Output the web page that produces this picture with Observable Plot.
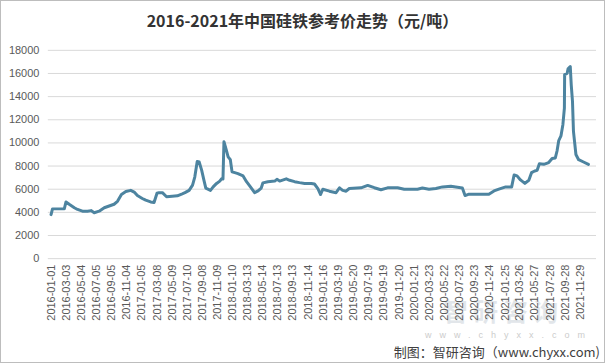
<!DOCTYPE html>
<html>
<head>
<meta charset="utf-8">
<script src="https://cdn.jsdelivr.net/npm/d3@7"></script>
<script src="https://cdn.jsdelivr.net/npm/@observablehq/plot@0.6"></script>
<style>
  html, body { margin: 0; padding: 0; background: #fff; }
  #wrap { position: relative; width: 605px; height: 363px; box-sizing: border-box; border: 1px solid #bdbdbd; overflow: hidden; background: #fff; }
  #wrap svg { position: absolute; left: -1px; top: -1px; }
  #title { position: absolute; left: 0; top: 8px; width: 603px; text-align: center; font: bold 16px "Noto Sans CJK SC", "Open Sans", sans-serif; color: #333; line-height: 22px; }
  #wm { position: absolute; left: 442px; top: 295px; font: bold 25px "Noto Sans CJK SC", sans-serif; color: #e2e6ea; letter-spacing: 5px; line-height: 28px; }
  #wm2 { position: absolute; left: 424px; top: 330px; font: 9px "Liberation Sans", sans-serif; color: #cccccc; letter-spacing: 8px; line-height: 9px; }
  #caption { position: absolute; right: 4px; top: 342px; font: 13px "Noto Sans CJK SC", "Liberation Sans", sans-serif; color: #404040; line-height: 18px; }
</style>
</head>
<body>
<div id="wrap">
  <div id="wm">智研咨询</div>
  <div id="wm2">www.chyxx.com</div>
  <div id="title">2016-2021年中国硅铁参考价走势（元/吨）</div>
  <div id="caption">制图：智研咨询（www.chyxx.com)</div>
</div>
<script>
const dates = [
  "2016-01-01","2016-01-07","2016-02-24","2016-03-02","2016-03-15","2016-04-05","2016-04-18","2016-05-08",
  "2016-05-29","2016-06-12","2016-06-25","2016-07-15","2016-08-05","2016-08-25","2016-09-14","2016-09-28",
  "2016-10-14","2016-11-01","2016-11-21","2016-12-05","2016-12-18","2017-01-07","2017-01-21","2017-02-10",
  "2017-02-24","2017-03-08","2017-03-16","2017-03-30","2017-04-16","2017-05-09","2017-05-30","2017-06-19",
  "2017-06-30","2017-07-17","2017-07-31","2017-08-09","2017-08-19","2017-08-27","2017-09-06","2017-09-15",
  "2017-09-23","2017-10-12","2017-10-23","2017-11-06","2017-11-19","2017-11-26","2017-12-02","2017-12-06",
  "2017-12-16","2017-12-23","2018-01-01","2018-01-08","2018-01-19","2018-02-01","2018-02-22","2018-03-08",
  "2018-03-24","2018-04-10","2018-04-24","2018-05-07","2018-05-14","2018-06-03","2018-07-01","2018-07-10",
  "2018-07-21","2018-08-17","2018-08-31","2018-09-20","2018-10-10","2018-10-31","2018-11-27","2018-12-10",
  "2018-12-24","2019-01-04","2019-01-13","2019-02-09","2019-03-08","2019-03-22","2019-04-04","2019-04-18",
  "2019-05-01","2019-06-18","2019-07-15","2019-08-11","2019-09-07","2019-10-04","2019-11-14","2019-12-11",
  "2020-02-03","2020-02-23","2020-03-21","2020-04-18","2020-05-15","2020-06-18","2020-08-04","2020-08-15",
  "2020-08-31","2020-11-20","2020-12-11","2020-12-31","2021-01-28","2021-02-21","2021-03-03","2021-03-15",
  "2021-03-29","2021-04-16","2021-05-02","2021-05-13","2021-05-26","2021-06-05","2021-06-14","2021-07-02",
  "2021-07-22","2021-08-05","2021-08-18","2021-08-25","2021-09-01","2021-09-10","2021-09-18","2021-09-24",
  "2021-09-25","2021-10-05","2021-10-09","2021-10-18","2021-10-22","2021-10-27","2021-10-31","2021-11-10",
  "2021-11-21","2021-12-11","2021-12-31"
];
const prices = [
  3800,4300,4300,4900,4700,4400,4250,4100,
  4100,4150,3970,4100,4400,4550,4700,4950,
  5550,5800,5900,5750,5450,5200,5050,4900,
  4850,5650,5700,5700,5350,5400,5430,5600,
  5700,5900,6350,7050,8400,8350,7650,6800,
  6100,5900,6200,6500,6700,6900,6880,10100,
  9350,8800,8550,7500,7430,7350,7150,6650,
  6200,5700,5850,6100,6550,6650,6700,6850,
  6700,6900,6770,6650,6570,6500,6500,6450,
  6050,5540,6000,5830,5700,6120,5900,5830,
  6060,6120,6330,6130,5950,6120,6120,6000,
  6000,6100,6000,6060,6200,6250,6100,5450,
  5570,5570,5850,6000,6200,6200,7230,7150,
  6800,6500,6770,7430,7570,7630,8200,8150,
  8300,8650,8700,9300,10200,10600,11600,13000,
  15900,16000,16400,16600,15000,13600,11000,9000,
  8550,8350,8150
];
const xTickLabels = [
  "2016-01-01","2016-03-03","2016-05-04","2016-07-05","2016-09-05","2016-11-04",
  "2017-01-05","2017-03-08","2017-05-09","2017-07-10","2017-09-08","2017-11-09",
  "2018-01-10","2018-03-13","2018-05-14","2018-07-13","2018-09-13","2018-11-14",
  "2019-01-16","2019-03-19","2019-05-20","2019-07-19","2019-09-19","2019-11-20",
  "2020-01-21","2020-03-23","2020-05-22","2020-07-23","2020-09-23","2020-11-24",
  "2021-01-25","2021-03-26","2021-05-27","2021-07-28","2021-09-28","2021-11-29"
];
const yTicks = [0,2000,4000,6000,8000,10000,12000,14000,16000,18000];

const data = dates.map((d, i) => ({date: new Date(d + "T00:00:00Z"), price: prices[i]}));
const xTicks = xTickLabels.map(d => new Date(d + "T00:00:00Z"));

const chart = Plot.plot({
  width: 605,
  height: 363,
  marginLeft: 48,
  marginRight: 7,
  marginTop: 50,
  marginBottom: 104,
  style: {fontFamily: "Liberation Sans, sans-serif", fontSize: "11px", color: "#595959", background: "transparent"},
  x: {type: "utc", domain: [new Date("2015-12-21T00:00:00Z"), new Date("2022-02-02T00:00:00Z")]},
  y: {domain: [0, 18000]},
  marks: [
    Plot.ruleY(yTicks, {stroke: "#d9d9d9", strokeWidth: 1}),
    Plot.line(data, {x: "date", y: "price", stroke: "#4d84a0", strokeWidth: 3, strokeLinejoin: "round", strokeLinecap: "round"}),
    Plot.axisY(yTicks, {tickSize: 0, tickPadding: 9, tickFormat: d => String(d), label: null, fill: "#595959"}),
    Plot.axisX(xTicks, {tickSize: 0, tickPadding: 6, tickRotate: -90, tickFormat: d3.utcFormat("%Y-%m-%d"), label: null, fill: "#595959"})
  ]
});
document.getElementById("wrap").insertBefore(chart, document.getElementById("title"));
</script>
</body>
</html>
